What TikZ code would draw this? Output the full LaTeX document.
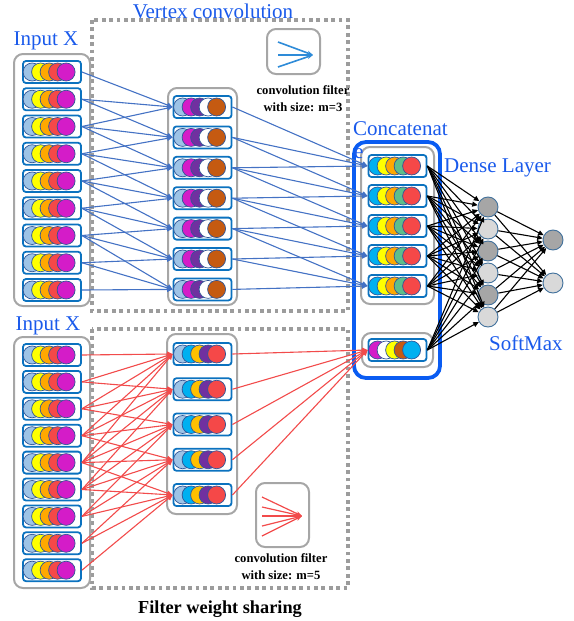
\documentclass[tikz,border=0pt]{standalone}
\usepackage{fontspec}
\setmainfont{Liberation Serif}
\usetikzlibrary{arrows.meta,calc}

\definecolor{lblue}{HTML}{9DC3E6}
\definecolor{cyanc}{HTML}{00B0F0}
\definecolor{yellowc}{HTML}{FFFF00}
\definecolor{orangec}{HTML}{FFA800}
\definecolor{goldc}{HTML}{FFC000}
\definecolor{redc}{HTML}{F54848}
\definecolor{magentac}{HTML}{D41CC8}
\definecolor{purplec}{HTML}{7030A0}
\definecolor{brownc}{HTML}{C55A11}
\definecolor{greenc}{HTML}{5DBE8C}
\definecolor{ringblue}{HTML}{2F5597}
\definecolor{boxblue}{HTML}{0B72BF}
\definecolor{catblue}{HTML}{0A5CF2}
\definecolor{labelblue}{HTML}{1A5AEB}
\definecolor{edgeblue}{HTML}{4472C4}
\definecolor{edgered}{HTML}{F24B4B}
\definecolor{framegray}{HTML}{A6A6A6}
\definecolor{dotgray}{HTML}{9C9C9C}
\definecolor{unitdark}{HTML}{A6A6A6}
\definecolor{unitlight}{HTML}{D9D9D9}
\definecolor{unitring}{HTML}{41719C}
\definecolor{filterblue}{HTML}{2E8BD8}

\tikzset{
   rowbox/.style={draw=boxblue,fill=white,line width=1.8pt,rounded corners=3pt,
      minimum width=58pt,minimum height=22pt,inner sep=0pt},
   framebox/.style={draw=framegray,line width=2pt,rounded corners=9pt},
   dotbox/.style={draw=dotgray,line width=3.8pt,dash pattern=on 3.8pt off 3.6pt},
   unit/.style={circle,draw=unitring,line width=0.9pt,minimum size=20pt,inner sep=0pt},
   blueedge/.style={edgeblue,line width=1.1pt,-{Triangle[length=5.5pt,width=5pt]}},
   rededge/.style={edgered,line width=1.1pt,-{Triangle[length=5.5pt,width=5pt]}},
   blackedge/.style={black,line width=1.1pt,-{Triangle[length=5.5pt,width=5pt]}},
   bluelabel/.style={labelblue,font=\fontsize{21}{24}\selectfont,inner sep=0pt},
   notelabel/.style={font=\fontsize{12.6}{15}\selectfont\bfseries,inner sep=0pt}
}

\newcommand{\unitrow}[4]{%
   \node[rowbox] (#1) at ({#2},{#3}) {};
   \foreach \cc [count=\q] in {#4}
      \filldraw[fill=\cc,draw=ringblue,line width=0.7pt]
         ($(#1.west)+(1.5+8.5*\q,0)$) circle (9pt);
}

\begin{document}
\begin{tikzpicture}[x=1pt,y=-1pt]
   \useasboundingbox (0,0) rectangle (573,621);

   % dotted frames
   \draw[dotbox] (92,20) rectangle (348,311);
   \draw[dotbox] (92,329) rectangle (348,588);

   % grey frames
   \draw[framebox] (14,54) rectangle (90,306);
   \draw[framebox] (168,88) rectangle (237,305);
   \draw[framebox] (14,337) rectangle (90,588);
   \draw[framebox] (167,334) rectangle (237,514);
   \draw[framebox] (267,29) rectangle (320,74);
   \draw[framebox] (256,483) rectangle (309,547);

   % labels
   \node[bluelabel,anchor=base] (lblvc) at (213,18) {Vertex convolution};
   \node[bluelabel,anchor=base] (lblinA) at (46,45) {Input X};
   \node[bluelabel,anchor=base] (lblinB) at (48,330) {Input X};
   \node[bluelabel,anchor=base west] (lblcat) at (353,135) {Concatenat};
   \node[bluelabel,anchor=base west] (lbldense) at (444,172) {Dense Layer};
   \node[bluelabel,anchor=base west] (lblsoft) at (489,350) {SoftMax};
   \node[notelabel,anchor=base] (lblfiltA) at (303,94) {convolution filter};
   \node[notelabel,anchor=base] (lblsizeA) at (303,111) {with size: m=3};
   \node[notelabel,anchor=base] (lblfiltB) at (281,562) {convolution filter};
   \node[notelabel,anchor=base] (lblsizeB) at (281,579) {with size: m=5};
   \node[font=\fontsize{18.3}{21}\selectfont\bfseries,anchor=base,inner sep=0pt]
      (lblshare) at (220,613) {Filter weight sharing};

   % concatenate block
   \draw[framebox] (361,147) rectangle (434,304);
   \draw[framebox] (362,333) rectangle (433,367);
   \draw[catblue,line width=3.8pt,rounded corners=12pt] (354,142) rectangle (440,378);
   \node[bluelabel,anchor=base west] (lblcatE) at (354,158) {e};

   % rows of units
   \foreach \i in {1,...,9}
      \unitrow{inA\i}{52}{72+27.25*(\i-1)}{lblue,yellowc,orangec,redc,magentac};
   \foreach \j in {1,...,7}
      \unitrow{hidA\j}{202.5}{107+30.4*(\j-1)}{lblue,magentac,purplec,white,brownc};
   \foreach \i in {1,...,9}
      \unitrow{inB\i}{52}{355+26.9*(\i-1)}{lblue,yellowc,orangec,redc,magentac};
   \foreach \j in {1,...,5}
      \unitrow{hidB\j}{202.5}{354+35.25*(\j-1)}{lblue,cyanc,goldc,purplec,redc};
   \foreach \k in {1,...,5}
      \unitrow{cat\k}{397.5}{166+30*(\k-1)}{cyanc,yellowc,orangec,greenc,redc};
   \unitrow{cat6}{397.5}{350}{magentac,white,yellowc,brownc,cyanc};

   % dense and softmax units
   \node[unit,fill=unitdark] (d1) at (488,207) {};
   \node[unit,fill=unitlight] (d2) at (488,229) {};
   \node[unit,fill=unitdark] (d3) at (488,251) {};
   \node[unit,fill=unitlight] (d4) at (488,273) {};
   \node[unit,fill=unitdark] (d5) at (488,295) {};
   \node[unit,fill=unitlight] (d6) at (488,317) {};
   \node[unit,fill=unitdark] (o1) at (553,240) {};
   \node[unit,fill=unitlight] (o2) at (553,283) {};

   % vertex convolution, m=3
   \foreach \j in {1,...,7}
      \foreach \d in {0,1,2} {
         \pgfmathtruncatemacro\i{\j+\d}
         \draw[blueedge] (inA\i.east) -- (hidA\j.west);
      }
   \foreach \k in {1,...,5}
      \foreach \d in {0,1,2} {
         \pgfmathtruncatemacro\i{\k+\d}
         \draw[blueedge] (hidA\i.east) -- (cat\k.west);
      }

   % shared filter, m=5
   \foreach \j in {1,...,5}
      \foreach \d in {0,...,4} {
         \pgfmathtruncatemacro\i{\j+\d}
         \draw[rededge] (inB\i.east) -- (hidB\j.west);
      }
   \foreach \j in {1,...,5}
      \draw[rededge] (hidB\j.east) -- (cat6.west);

   % dense layer
   \foreach \k in {1,...,6}
      \foreach \m in {1,...,6}
         \draw[blackedge] (cat\k.east) -- (d\m);
   \foreach \m in {1,...,6}
      \foreach \n in {1,2}
         \draw[blackedge] (d\m) -- (o\n);

   % filter icons
   \coordinate (tipA) at (313,55);
   \foreach \y in {42,55,67}
      \draw[filterblue,line width=1.6pt,-{Stealth[length=6pt]}] (278,\y) -- (tipA);
   \coordinate (tipB) at (302,516);
   \foreach \y in {497,507,516,526,536}
      \draw[edgered,line width=1.2pt,-{Stealth[length=6pt]}] (262,\y) -- (tipB);
\end{tikzpicture}
\end{document}
